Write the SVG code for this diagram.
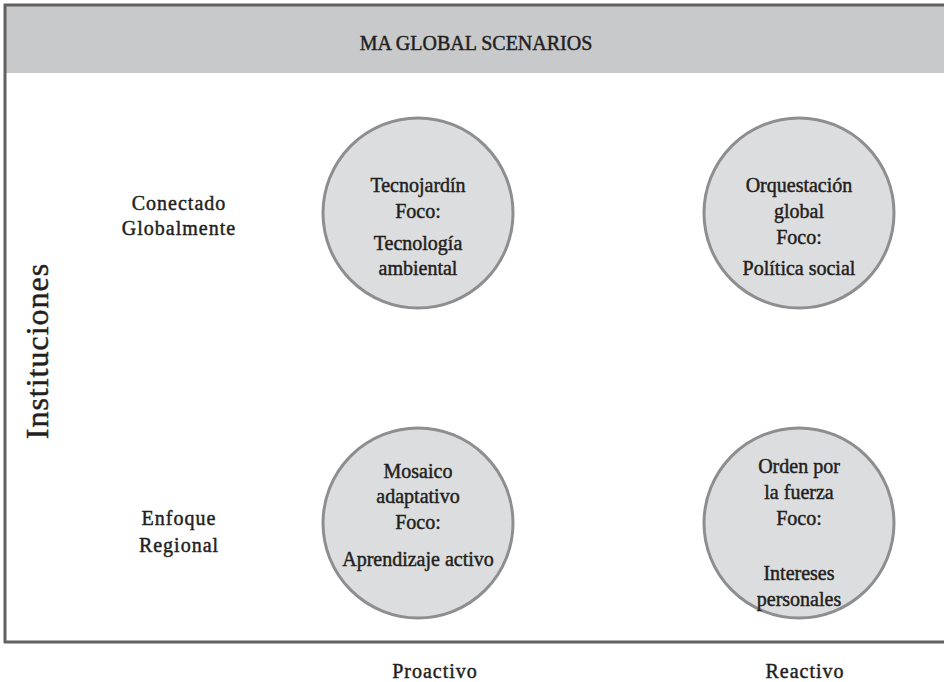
<svg xmlns="http://www.w3.org/2000/svg" width="944" height="682" viewBox="0 0 944 682">
<style>
.t{font-family:"Liberation Serif","Times New Roman",serif;font-size:20px;fill:#231f20;text-anchor:middle;stroke:#231f20;stroke-width:0.45}
.c{fill:#dcdddf;stroke:#8e8e90;stroke-width:3}
.lab{letter-spacing:1px}
</style>
<rect x="0" y="0" width="944" height="682" fill="#ffffff"/>
<g id="frame">
<rect x="5" y="6" width="945" height="67" fill="#c8c9cb"/>
<line x1="4" y1="5" x2="944" y2="5" stroke="#616161" stroke-width="3"/>
<line x1="5" y1="4" x2="5" y2="643" stroke="#616161" stroke-width="3"/>
<line x1="4" y1="642" x2="944" y2="642" stroke="#616161" stroke-width="3"/>
<text class="t" x="476" y="50">MA GLOBAL SCENARIOS</text>
</g>
<g id="axis-y">
<text class="t" x="0" y="0" transform="translate(48,351) rotate(-90)" style="font-size:32px;letter-spacing:1px">Instituciones</text>
</g>
<g id="row1"><text class="t lab" x="179" y="210">Conectado</text><text class="t lab" x="179" y="235">Globalmente</text></g>
<g id="row2"><text class="t lab" x="179" y="525">Enfoque</text><text class="t lab" x="179" y="552">Regional</text></g>
<g id="col1"><text class="t lab" x="435" y="678">Proactivo</text></g>
<g id="col2"><text class="t lab" x="805" y="678">Reactivo</text></g>
<g id="tecnojardin">
<circle class="c" cx="418" cy="213" r="95"/>
<text class="t" x="418" y="192">Tecnojardín</text>
<text class="t" x="418" y="218">Foco:</text>
<text class="t" x="418" y="250">Tecnología</text>
<text class="t" x="418" y="275">ambiental</text>
</g>
<g id="orquestacion">
<circle class="c" cx="799" cy="213" r="95"/>
<text class="t" x="799" y="192">Orquestación</text>
<text class="t" x="799" y="218">global</text>
<text class="t" x="799" y="244">Foco:</text>
<text class="t" x="799" y="275">Política social</text>
</g>
<g id="mosaico">
<circle class="c" cx="418" cy="523" r="95"/>
<text class="t" x="418" y="478">Mosaico</text>
<text class="t" x="418" y="503">adaptativo</text>
<text class="t" x="418" y="529">Foco:</text>
<text class="t" x="418" y="566">Aprendizaje activo</text>
</g>
<g id="orden">
<circle class="c" cx="799" cy="523" r="95"/>
<text class="t" x="799" y="473">Orden por</text>
<text class="t" x="799" y="499">la fuerza</text>
<text class="t" x="799" y="525">Foco:</text>
<text class="t" x="799" y="580">Intereses</text>
<text class="t" x="799" y="606">personales</text>
</g>
<g id="connectors"></g>
</svg>
